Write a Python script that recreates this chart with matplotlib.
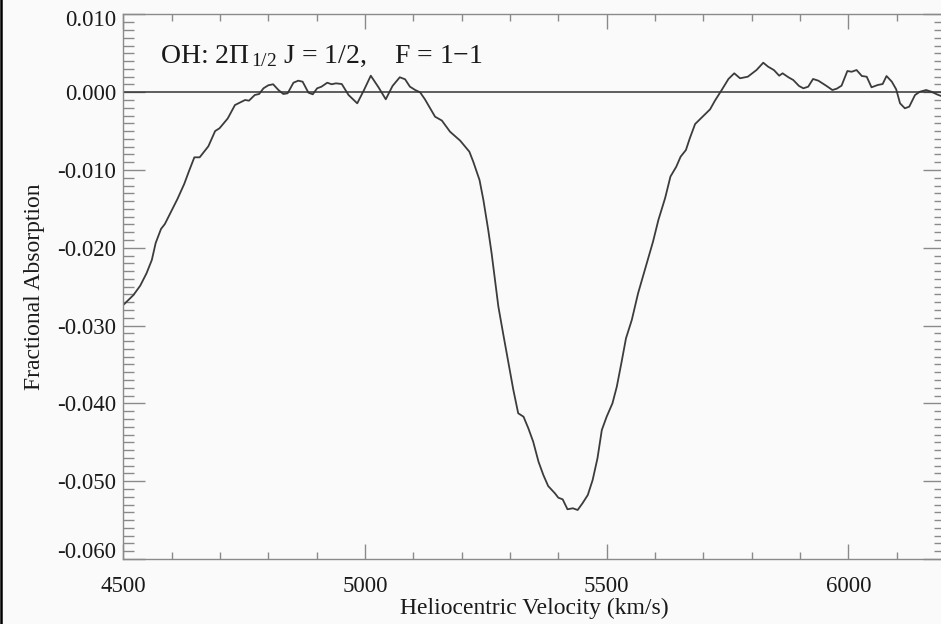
import matplotlib
matplotlib.use("Agg")
import matplotlib.pyplot as plt
from matplotlib.ticker import MultipleLocator, FuncFormatter
from matplotlib.lines import Line2D

# OH 2Pi_1/2 J=1/2 F=1-1 absorption spectrum
velocity = [
    4500, 4521, 4535, 4548, 4559, 4567, 4578, 4586, 4597, 4612,
    4626, 4636, 4647, 4658, 4676, 4690, 4699, 4716, 4731, 4752,
    4760, 4772, 4781, 4790, 4800, 4810, 4821, 4831, 4840, 4852,
    4862, 4871, 4883, 4892, 4901, 4910, 4922, 4931, 4940, 4952,
    4966, 4984, 4998, 5012, 5028, 5043, 5057, 5072, 5083, 5093,
    5104, 5114, 5124, 5135, 5145, 5159, 5176, 5197, 5216, 5224,
    5237, 5245, 5255, 5262, 5269, 5276, 5286, 5297, 5307, 5317,
    5328, 5338, 5348, 5359, 5369, 5379, 5393, 5400, 5409, 5419,
    5430, 5440, 5450, 5461, 5471, 5481, 5490, 5500, 5512, 5521,
    5531, 5540, 5552, 5565, 5583, 5596, 5607, 5621, 5632, 5644,
    5653, 5664, 5672, 5683, 5697, 5714, 5724, 5738, 5752, 5764,
    5776, 5792, 5810, 5824, 5834, 5846, 5857, 5864, 5876, 5886,
    5898, 5907, 5917, 5927, 5938, 5955, 5967, 5976, 5986, 5998,
    6007, 6017, 6028, 6038, 6048, 6061, 6071, 6079, 6090, 6099,
    6107, 6117, 6126, 6138, 6148, 6161, 6172, 6183, 6192, 6200,
]
absorption = [
    -0.02735, -0.02607, -0.02487, -0.02328, -0.02157, -0.01938, -0.01758, -0.01694, -0.01557, -0.01373,
    -0.01180, -0.01013, -0.00837, -0.00837, -0.00695, -0.00499, -0.00464, -0.00338, -0.00165, -0.00100,
    -0.00109, -0.00036, -0.00023, 0.00050, 0.00089, 0.00102, 0.00028, -0.00023, -0.00014, 0.00122,
    0.00148, 0.00135, -0.00006, -0.00027, 0.00050, 0.00071, 0.00122, 0.00102, 0.00114, 0.00105,
    -0.00036, -0.00143, 0.00028, 0.00212, 0.00063, -0.00091, 0.00080, 0.00192, 0.00166, 0.00071,
    0.00028, -0.00001, -0.00091, -0.00207, -0.00315, -0.00364, -0.00508, -0.00623, -0.00765, -0.00893,
    -0.01129, -0.01386, -0.01771, -0.02071, -0.02414, -0.02757, -0.03108, -0.03485, -0.03828, -0.04127,
    -0.04171, -0.04320, -0.04492, -0.04749, -0.04920, -0.05062, -0.05156, -0.05212, -0.05233, -0.05361,
    -0.05348, -0.05370, -0.05284, -0.05177, -0.04985, -0.04706, -0.04342, -0.04171, -0.03999, -0.03785,
    -0.03464, -0.03163, -0.02928, -0.02585, -0.02199, -0.01919, -0.01643, -0.01360, -0.01084, -0.00958,
    -0.00829, -0.00743, -0.00593, -0.00409, -0.00323, -0.00220, -0.00109, 0.00028, 0.00170, 0.00243,
    0.00179, 0.00199, 0.00285, 0.00379, 0.00328, 0.00285, 0.00212, 0.00243, 0.00192, 0.00157,
    0.00080, 0.00050, 0.00071, 0.00170, 0.00148, 0.00080, 0.00028, 0.00045, 0.00084, 0.00272,
    0.00263, 0.00285, 0.00208, 0.00199, 0.00063, 0.00093, 0.00105, 0.00208, 0.00135, 0.00037,
    -0.00143, -0.00207, -0.00186, -0.00036, 0.00006, 0.00028, 0.00006, -0.00027, -0.00049, -0.00060,
]

y_ticks = [-0.060, -0.050, -0.040, -0.030, -0.020, -0.010, 0.000, 0.010]
x_ticks = [4500, 5000, 5500, 6000]

plt.rcParams['font.family'] = ['Liberation Serif', 'DejaVu Serif']
plt.rcParams['mathtext.fontset'] = 'custom'
plt.rcParams['mathtext.rm'] = 'Liberation Serif'
plt.rcParams['mathtext.it'] = 'Liberation Serif:italic'
plt.rcParams['axes.unicode_minus'] = False

bg = '#fafafa'
axis_col = '#8a8a8a'
txt_col = '#1a1a1a'

fig = plt.figure(figsize=(9.41, 6.24), dpi=100, facecolor=bg)
ax = fig.add_axes([123.3 / 941, 65 / 624, (945 - 123.3) / 941, (559 - 14.4) / 624])
ax.set_facecolor(bg)

ax.plot(velocity, absorption, color='#3c3c3c', lw=1.3)
ax.axhline(0.0, color='#333333', lw=1.1)

ax.set_xlim(4500, 6200)
ax.set_ylim(-0.060, 0.010)

ax.set_xticks(x_ticks)
ax.xaxis.set_minor_locator(MultipleLocator(100))
ax.set_yticks(y_ticks)
ax.yaxis.set_minor_locator(MultipleLocator(0.001))

# end labels are nudged inside the frame, drawn separately below
ends = (y_ticks[0], y_ticks[-1])
ax.yaxis.set_major_formatter(FuncFormatter(
    lambda v, p: '' if any(abs(v - e) < 1e-9 for e in ends) else '%.3f' % v))

for s in ax.spines.values():
    s.set_color(axis_col)
    s.set_linewidth(1.0)

ax.tick_params(which='both', direction='in', top=True, right=True,
               color=axis_col, width=1.0, labelsize=16.5, labelcolor=txt_col)
ax.tick_params(axis='x', which='major', length=11, pad=12)
ax.tick_params(axis='x', which='minor', length=5)
ax.tick_params(axis='y', which='major', length=16, pad=5)
ax.tick_params(axis='y', which='minor', length=8)

for v, dy in ((y_ticks[-1], -6), (y_ticks[0], 6)):
    ax.annotate('%.3f' % v, xy=(0, v), xycoords=('axes fraction', 'data'),
                xytext=(-7, dy), textcoords='offset pixels',
                ha='right', va='center', fontsize=16.5, color=txt_col)

ax.set_xlabel('Heliocentric Velocity (km/s)', fontsize=17, color=txt_col, labelpad=1)
ax.set_ylabel('Fractional Absorption', fontsize=17, color=txt_col, labelpad=9)

ax.text(160, 624 - 63, r'OH: 2$\Pi_{\,1/2}$ J = 1/2,    F = 1−1', transform=None,
        fontsize=20, color=txt_col, va='baseline', ha='left')

# black edge down the left side of the frame
fig.add_artist(Line2D([1.0 / 941, 1.0 / 941], [0, 1], transform=fig.transFigure,
                      color='black', lw=1.8))

fig.savefig('out.png', dpi=100, facecolor=bg)
